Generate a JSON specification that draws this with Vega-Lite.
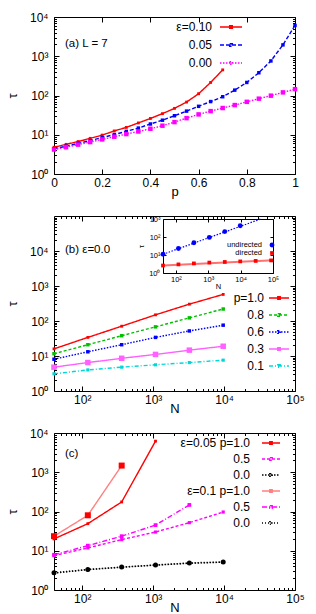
{
"$schema": "https://vega.github.io/schema/vega-lite/v6.json",
"padding": {"left": 5, "top": 10, "right": 0, "bottom": 0},
"bounds": "flush",
"spacing": 42,
"config": {
  "font": "Liberation Sans",
  "view": {"stroke": "#000000", "strokeWidth": 1},
  "axis": {"domain": false, "grid": false, "ticks": true, "tickColor": "#000000", "tickWidth": 1, "tickSize": -5, "labelColor": "#000000", "labelFontSize": 12, "labelFont": "Liberation Sans", "titleFont": "Liberation Sans", "titleFontSize": 13, "titleFontWeight": "normal", "titleColor": "#000000", "labelPadding": 8, "labelFlush": false, "labelOverlap": false},
  "axisY": {"labelPadding": 11, "titlePadding": 10},
  "axisX": {"titlePadding": -3},
  "legend": {"orient": "none", "title": null, "labelFont": "Liberation Sans", "labelFontSize": 12, "labelColor": "#000000", "labelAlign": "right", "padding": 0, "labelLimit": 0},
  "title": {"font": "Liberation Sans", "fontSize": 11.5, "fontWeight": "normal", "color": "#000000", "anchor": "start", "frame": "group", "baseline": "middle"}
},
"resolve": {"scale": {"color": "independent", "fill": "independent", "size": "independent", "shape": "independent", "strokeDash": "independent", "x": "independent", "y": "independent"}},
"datasets": {
  "a": [
    {"p":0,"tau":4.8,"s":"ε=0.10"},{"p":0.05,"tau":5.7,"s":"ε=0.10"},{"p":0.1,"tau":6.7,"s":"ε=0.10"},{"p":0.15,"tau":8.1,"s":"ε=0.10"},{"p":0.2,"tau":9.8,"s":"ε=0.10"},{"p":0.25,"tau":12.5,"s":"ε=0.10"},{"p":0.3,"tau":15.4,"s":"ε=0.10"},{"p":0.35,"tau":20,"s":"ε=0.10"},{"p":0.4,"tau":26,"s":"ε=0.10"},{"p":0.45,"tau":34.5,"s":"ε=0.10"},{"p":0.5,"tau":47,"s":"ε=0.10"},{"p":0.55,"tau":68,"s":"ε=0.10"},{"p":0.6,"tau":111,"s":"ε=0.10"},{"p":0.65,"tau":215,"s":"ε=0.10"},{"p":0.7,"tau":450,"s":"ε=0.10"},
    {"p":0,"tau":4.4,"s":"0.05"},{"p":0.05,"tau":5.1,"s":"0.05"},{"p":0.1,"tau":6.0,"s":"0.05"},{"p":0.15,"tau":7.1,"s":"0.05"},{"p":0.2,"tau":8.5,"s":"0.05"},{"p":0.25,"tau":10.1,"s":"0.05"},{"p":0.3,"tau":12.2,"s":"0.05"},{"p":0.35,"tau":14.8,"s":"0.05"},{"p":0.4,"tau":18.8,"s":"0.05"},{"p":0.45,"tau":23.5,"s":"0.05"},{"p":0.5,"tau":30.5,"s":"0.05"},{"p":0.55,"tau":40,"s":"0.05"},{"p":0.6,"tau":53,"s":"0.05"},{"p":0.65,"tau":70,"s":"0.05"},{"p":0.7,"tau":93,"s":"0.05"},{"p":0.75,"tau":137,"s":"0.05"},{"p":0.8,"tau":215,"s":"0.05"},{"p":0.85,"tau":380,"s":"0.05"},{"p":0.9,"tau":760,"s":"0.05"},{"p":0.95,"tau":1950,"s":"0.05"},{"p":1.0,"tau":6100,"s":"0.05"},
    {"p":0,"tau":4.2,"s":"0.00"},{"p":0.05,"tau":4.8,"s":"0.00"},{"p":0.1,"tau":5.6,"s":"0.00"},{"p":0.15,"tau":6.5,"s":"0.00"},{"p":0.2,"tau":7.6,"s":"0.00"},{"p":0.25,"tau":8.9,"s":"0.00"},{"p":0.3,"tau":10.4,"s":"0.00"},{"p":0.35,"tau":12.1,"s":"0.00"},{"p":0.4,"tau":14.2,"s":"0.00"},{"p":0.45,"tau":17,"s":"0.00"},{"p":0.5,"tau":21,"s":"0.00"},{"p":0.55,"tau":26.5,"s":"0.00"},{"p":0.6,"tau":33,"s":"0.00"},{"p":0.65,"tau":40,"s":"0.00"},{"p":0.7,"tau":48,"s":"0.00"},{"p":0.75,"tau":57,"s":"0.00"},{"p":0.8,"tau":69,"s":"0.00"},{"p":0.85,"tau":83,"s":"0.00"},{"p":0.9,"tau":99,"s":"0.00"},{"p":0.95,"tau":120,"s":"0.00"},{"p":1.0,"tau":145,"s":"0.00"}
  ],
  "b": [
    {"N":40,"tau":16,"s":"p=1.0"},{"N":120,"tau":34,"s":"p=1.0"},{"N":360,"tau":71,"s":"p=1.0"},{"N":1080,"tau":150,"s":"p=1.0"},{"N":3240,"tau":303,"s":"p=1.0"},{"N":9720,"tau":575,"s":"p=1.0"},
    {"N":40,"tau":11.6,"s":"0.8"},{"N":120,"tau":21,"s":"0.8"},{"N":360,"tau":38,"s":"0.8"},{"N":1080,"tau":68,"s":"0.8"},{"N":3240,"tau":123,"s":"0.8"},{"N":9720,"tau":220,"s":"0.8"},
    {"N":40,"tau":8.1,"s":"0.6"},{"N":120,"tau":13.2,"s":"0.6"},{"N":360,"tau":21,"s":"0.6"},{"N":1080,"tau":34,"s":"0.6"},{"N":3240,"tau":52,"s":"0.6"},{"N":9720,"tau":76,"s":"0.6"},
    {"N":40,"tau":4.8,"s":"0.3"},{"N":120,"tau":6.5,"s":"0.3"},{"N":360,"tau":8.6,"s":"0.3"},{"N":1080,"tau":11.1,"s":"0.3"},{"N":3240,"tau":14.7,"s":"0.3"},{"N":9720,"tau":19,"s":"0.3"},
    {"N":40,"tau":3.1,"s":"0.1"},{"N":120,"tau":4.0,"s":"0.1"},{"N":360,"tau":4.8,"s":"0.1"},{"N":1080,"tau":5.6,"s":"0.1"},{"N":3240,"tau":6.5,"s":"0.1"},{"N":9720,"tau":7.6,"s":"0.1"}
  ],
  "bi": [
    {"N":40,"tau":11,"kind":"undirected"},{"N":120,"tau":23,"kind":"undirected"},{"N":360,"tau":48,"kind":"undirected"},{"N":1080,"tau":95,"kind":"undirected"},{"N":3240,"tau":200,"kind":"undirected"},{"N":9720,"tau":420,"kind":"undirected"},
    {"N":40,"tau":2.6,"kind":"directed"},{"N":120,"tau":3.0,"kind":"directed"},{"N":360,"tau":3.4,"kind":"directed"},{"N":1080,"tau":3.8,"kind":"directed"},{"N":3240,"tau":4.1,"kind":"directed"},{"N":9720,"tau":4.4,"kind":"directed"},{"N":29160,"tau":4.7,"kind":"directed"},{"N":87480,"tau":5.0,"kind":"directed"}
  ],
  "bfit": [
    {"N":40,"tau":11,"kind":"undirected"},{"N":41700,"tau":1000,"kind":"undirected"},
    {"N":40,"tau":2.6,"kind":"directed"},{"N":100000,"tau":5.1,"kind":"directed"}
  ],
  "c": [
    {"N":40,"tau":20,"s":"e05p10"},{"N":120,"tau":49,"s":"e05p10"},{"N":360,"tau":175,"s":"e05p10"},{"N":1080,"tau":6200,"s":"e05p10"},
    {"N":40,"tau":7.5,"s":"e05p05"},{"N":120,"tau":11.8,"s":"e05p05"},{"N":360,"tau":19.2,"s":"e05p05"},{"N":1080,"tau":30,"s":"e05p05"},{"N":3240,"tau":52,"s":"e05p05"},{"N":9720,"tau":97,"s":"e05p05"},
    {"N":40,"tau":2.7,"s":"e05p00"},{"N":120,"tau":3.3,"s":"e05p00"},{"N":360,"tau":3.8,"s":"e05p00"},{"N":1080,"tau":4.3,"s":"e05p00"},{"N":3240,"tau":4.8,"s":"e05p00"},{"N":9720,"tau":5.1,"s":"e05p00"},
    {"N":40,"tau":23.5,"s":"e10p10"},{"N":120,"tau":80,"s":"e10p10"},{"N":360,"tau":1480,"s":"e10p10"},
    {"N":40,"tau":7.9,"s":"e10p05"},{"N":120,"tau":13.5,"s":"e10p05"},{"N":360,"tau":23.5,"s":"e10p05"},{"N":1080,"tau":45,"s":"e10p05"},{"N":3240,"tau":147,"s":"e10p05"},
    {"N":40,"tau":2.75,"s":"e10p00"},{"N":120,"tau":3.35,"s":"e10p00"},{"N":360,"tau":3.85,"s":"e10p00"},{"N":1080,"tau":4.35,"s":"e10p00"},{"N":3240,"tau":4.9,"s":"e10p00"},{"N":9720,"tau":5.2,"s":"e10p00"}
  ]
},
"vconcat": [
{
  "width": 241, "height": 157,
  "title": {"text": "(a) L = 7", "offset": -38, "dx": 11},
  "data": {"name": "a"},
  "resolve": {"axis": {"x": "independent", "y": "independent"}, "scale": {"fill": "independent", "size": "independent", "shape": "independent"}},
  "layer": [
    {"mark": {"type": "line", "strokeWidth": 1.4},
     "encoding": {
       "x": {"field": "p", "type": "quantitative", "scale": {"domain": [0, 1], "nice": false, "zero": false}, "axis": {"orient": "bottom", "title": "p", "values": [0, 0.2, 0.4, 0.6, 0.8, 1], "format": "~g"}},
       "y": {"field": "tau", "type": "quantitative", "scale": {"type": "log", "domain": [1, 10000], "nice": false}, "axis": {"orient": "left", "title": "τ", "values": [1, 10, 100, 1000, 10000], "labelExpr": "datum.value==1?'10⁰':datum.value==10?'10¹':datum.value==100?'10²':datum.value==1000?'10³':datum.value==10000?'10⁴':'10⁵'"}},
       "color": {"field": "s", "type": "nominal", "scale": {"domain": ["ε=0.10", "0.05", "0.00"], "range": ["#ff0000", "#0000ff", "#ff00ff"]}, "legend": {"legendX": 165, "legendY": -2, "symbolType": "M-1,0H1M-0.12,-0.12H0.12V0.12H-0.12Z", "symbolSize": 484, "symbolStrokeWidth": 1.5, "rowPadding": -11, "labelOffset": -31}},
       "strokeDash": {"field": "s", "type": "nominal", "scale": {"domain": ["ε=0.10", "0.05", "0.00"], "range": [[1, 0], [4, 2], [1.5, 1.5]]}, "legend": {"legendX": 165, "legendY": -2, "symbolType": "M-1,0H1M-0.12,-0.12H0.12V0.12H-0.12Z", "symbolSize": 484, "symbolStrokeWidth": 1.5, "rowPadding": -11, "labelOffset": -31}}
     }},
    {"mark": {"type": "point", "filled": true, "shape": "square", "opacity": 1},
     "encoding": {
       "x": {"field": "p", "type": "quantitative", "axis": {"orient": "top", "labels": false, "title": null, "values": [0, 0.2, 0.4, 0.6, 0.8, 1]}},
       "y": {"field": "tau", "type": "quantitative", "axis": {"orient": "right", "labels": false, "title": null, "values": [1, 10, 100, 1000, 10000]}},
       "fill": {"field": "s", "type": "nominal", "scale": {"domain": ["ε=0.10", "0.05", "0.00"], "range": ["#ff0000", "#0000ff", "#ff00ff"]}, "legend": null},
       "size": {"field": "s", "type": "nominal", "scale": {"type": "ordinal", "domain": ["ε=0.10", "0.05", "0.00"], "range": [8, 12, 20]}, "legend": null}
     }},
    {"mark": {"type": "point", "opacity": 0},
     "encoding": {
       "x": {"field": "p", "type": "quantitative", "axis": null},
       "y": {"field": "tau", "type": "quantitative", "axis": {"orient": "left", "labels": false, "title": null, "tickSize": -2.5, "values": [2,3,4,5,6,7,8,9,20,30,40,50,60,70,80,90,200,300,400,500,600,700,800,900,2000,3000,4000,5000,6000,7000,8000,9000]}}
     }},
    {"mark": {"type": "point", "opacity": 0},
     "encoding": {
       "x": {"field": "p", "type": "quantitative", "axis": null},
       "y": {"field": "tau", "type": "quantitative", "axis": {"orient": "right", "labels": false, "title": null, "tickSize": -2.5, "values": [2,3,4,5,6,7,8,9,20,30,40,50,60,70,80,90,200,300,400,500,600,700,800,900,2000,3000,4000,5000,6000,7000,8000,9000]}}
     }}
  ]
},
{
  "width": 241, "height": 175,
  "title": {"text": "(b) ε=0.0", "offset": -40, "dx": 11},
  "resolve": {"scale": {"x": "independent", "y": "independent", "color": "independent", "fill": "independent", "size": "independent", "shape": "independent", "strokeDash": "independent"}},
  "layer": [
    {"data": {"name": "b"},
     "mark": {"type": "line", "strokeWidth": 1.4},
     "encoding": {
       "x": {"field": "N", "type": "quantitative", "scale": {"type": "log", "domain": [40, 100000], "nice": false}, "axis": {"orient": "bottom", "title": "N", "values": [100, 1000, 10000, 100000], "labelExpr": "datum.value==1?'10⁰':datum.value==10?'10¹':datum.value==100?'10²':datum.value==1000?'10³':datum.value==10000?'10⁴':'10⁵'"}},
       "y": {"field": "tau", "type": "quantitative", "scale": {"type": "log", "domain": [1, 100000], "nice": false}, "axis": {"orient": "left", "title": "τ", "values": [1, 10, 100, 1000, 10000], "labelExpr": "datum.value==1?'10⁰':datum.value==10?'10¹':datum.value==100?'10²':datum.value==1000?'10³':datum.value==10000?'10⁴':'10⁵'"}},
       "color": {"field": "s", "type": "nominal", "scale": {"domain": ["p=1.0", "0.8", "0.6", "0.3", "0.1"], "range": ["#ff0000", "#00c000", "#0000ff", "#ff60ff", "#00d8d8"]}, "legend": {"legendX": 214, "legendY": 71, "symbolType": "M-1,0H1M-0.12,-0.12H0.12V0.12H-0.12Z", "symbolSize": 400, "symbolStrokeWidth": 1.5, "rowPadding": -8.5, "labelOffset": -26}},
       "strokeDash": {"field": "s", "type": "nominal", "scale": {"domain": ["p=1.0", "0.8", "0.6", "0.3", "0.1"], "range": [[1, 0], [3, 2], [1.5, 1.5], [1, 0], [4, 2, 1, 2]]}, "legend": {"legendX": 214, "legendY": 71, "symbolType": "M-1,0H1M-0.12,-0.12H0.12V0.12H-0.12Z", "symbolSize": 400, "symbolStrokeWidth": 1.5, "rowPadding": -8.5, "labelOffset": -26}}
     }},
    {"data": {"name": "b"},
     "mark": {"type": "point", "filled": true, "shape": "square", "opacity": 1},
     "encoding": {
       "x": {"field": "N", "type": "quantitative", "scale": {"type": "log", "domain": [40, 100000], "nice": false}, "axis": {"orient": "top", "labels": false, "title": null, "values": [100, 1000, 10000, 100000]}},
       "y": {"field": "tau", "type": "quantitative", "scale": {"type": "log", "domain": [1, 100000], "nice": false}, "axis": {"orient": "right", "labels": false, "title": null, "values": [1, 10, 100, 1000, 10000]}},
       "fill": {"field": "s", "type": "nominal", "scale": {"domain": ["p=1.0", "0.8", "0.6", "0.3", "0.1"], "range": ["#ff0000", "#00c000", "#0000ff", "#ff60ff", "#00d8d8"]}, "legend": null},
       "size": {"field": "s", "type": "nominal", "scale": {"type": "ordinal", "domain": ["p=1.0", "0.8", "0.6", "0.3", "0.1"], "range": [8, 12, 12, 30, 10]}, "legend": null}
     }},
    {"data": {"name": "b"},
     "mark": {"type": "point", "opacity": 0},
     "encoding": {
       "x": {"field": "N", "type": "quantitative", "scale": {"type": "log", "domain": [40, 100000], "nice": false}, "axis": {"orient": "bottom", "labels": false, "title": null, "tickSize": -2.5, "values": [50,60,70,80,90,200,300,400,500,600,700,800,900,2000,3000,4000,5000,6000,7000,8000,9000,20000,30000,40000,50000,60000,70000,80000,90000]}},
       "y": {"field": "tau", "type": "quantitative", "scale": {"type": "log", "domain": [1, 100000], "nice": false}, "axis": {"orient": "left", "labels": false, "title": null, "tickSize": -2.5, "values": [2,3,4,5,6,7,8,9,20,30,40,50,60,70,80,90,200,300,400,500,600,700,800,900,2000,3000,4000,5000,6000,7000,8000,9000,20000,30000,40000,50000,60000,70000,80000,90000]}}
     }},
    {"data": {"name": "b"},
     "mark": {"type": "point", "opacity": 0},
     "encoding": {
       "x": {"field": "N", "type": "quantitative", "scale": {"type": "log", "domain": [40, 100000], "nice": false}, "axis": {"orient": "top", "labels": false, "title": null, "tickSize": -2.5, "values": [50,60,70,80,90,200,300,400,500,600,700,800,900,2000,3000,4000,5000,6000,7000,8000,9000,20000,30000,40000,50000,60000,70000,80000,90000]}},
       "y": {"field": "tau", "type": "quantitative", "scale": {"type": "log", "domain": [1, 100000], "nice": false}, "axis": {"orient": "right", "labels": false, "title": null, "tickSize": -2.5, "values": [2,3,4,5,6,7,8,9,20,30,40,50,60,70,80,90,200,300,400,500,600,700,800,900,2000,3000,4000,5000,6000,7000,8000,9000,20000,30000,40000,50000,60000,70000,80000,90000]}}
     }},
    {"data": {"name": "bfit"},
     "transform": [{"filter": "datum.kind == 'undirected'"}],
     "mark": {"type": "line", "color": "#0000ff", "strokeDash": [1.5, 1.5], "strokeWidth": 1.2},
     "encoding": {
       "x": {"field": "N", "type": "quantitative", "scale": {"type": "log", "domain": [40, 100000], "nice": false, "range": [109, 219]}, "axis": {"orient": "bottom", "offset": -118, "domain": true, "domainColor": "#000000", "values": [100, 1000, 10000, 100000], "labelExpr": "datum.value==1?'10⁰':datum.value==10?'10¹':datum.value==100?'10²':datum.value==1000?'10³':datum.value==10000?'10⁴':'10⁵'", "labelFontSize": 7.5, "tickSize": -3, "labelPadding": 5, "title": "N", "titleFontSize": 7.5, "titlePadding": 0}},
       "y": {"field": "tau", "type": "quantitative", "scale": {"type": "log", "domain": [1, 1000], "nice": false, "range": [57, 3]}, "axis": {"orient": "left", "offset": -109, "domain": true, "domainColor": "#000000", "values": [1, 10, 100, 1000], "labelExpr": "datum.value==1?'10⁰':datum.value==10?'10¹':datum.value==100?'10²':datum.value==1000?'10³':datum.value==10000?'10⁴':'10⁵'", "labelFontSize": 7.5, "tickSize": -3, "labelPadding": 6, "title": "τ", "titleFontSize": 7.5, "titlePadding": 3}}
     }},
    {"data": {"name": "bfit"},
     "transform": [{"filter": "datum.kind == 'directed'"}],
     "mark": {"type": "line", "color": "#ff7070", "strokeWidth": 2},
     "encoding": {
       "x": {"field": "N", "type": "quantitative", "scale": {"type": "log", "domain": [40, 100000], "nice": false, "range": [109, 219]}, "axis": {"orient": "top", "offset": -3, "domain": true, "domainColor": "#000000", "labels": false, "title": null, "tickSize": -3, "values": [100, 1000, 10000, 100000]}},
       "y": {"field": "tau", "type": "quantitative", "scale": {"type": "log", "domain": [1, 1000], "nice": false, "range": [57, 3]}, "axis": {"orient": "right", "offset": -22, "domain": true, "domainColor": "#000000", "labels": false, "title": null, "tickSize": -3, "values": [1, 10, 100, 1000]}}
     }},
    {"data": {"name": "bi"},
     "mark": {"type": "point", "filled": true, "opacity": 1},
     "encoding": {
       "x": {"field": "N", "type": "quantitative", "scale": {"type": "log", "domain": [40, 100000], "nice": false, "range": [109, 219]}, "axis": null},
       "y": {"field": "tau", "type": "quantitative", "scale": {"type": "log", "domain": [1, 1000], "nice": false, "range": [57, 3]}, "axis": null},
       "color": {"field": "kind", "type": "nominal", "scale": {"domain": ["undirected", "directed"], "range": ["#0000ff", "#ff0000"]}, "legend": {"legendX": 214.25, "legendY": 25.25, "labelFontSize": 7.5, "rowPadding": -1, "labelOffset": -13.75, "symbolSize": 20}},
       "shape": {"field": "kind", "type": "nominal", "scale": {"domain": ["undirected", "directed"], "range": ["circle", "square"]}, "legend": {"legendX": 214.25, "legendY": 25.25, "labelFontSize": 7.5, "rowPadding": -1, "labelOffset": -13.75, "symbolSize": 20}},
       "size": {"field": "kind", "type": "nominal", "scale": {"type": "ordinal", "domain": ["undirected", "directed"], "range": [24, 14]}, "legend": null}
     }}
  ]
},
{
  "width": 241, "height": 157,
  "title": {"text": "(c)", "offset": -32, "dx": 11},
  "data": {"name": "c"},
  "resolve": {"axis": {"x": "independent", "y": "independent"}, "scale": {"fill": "independent", "size": "independent", "shape": "independent"}},
  "layer": [
    {"mark": {"type": "line", "strokeWidth": 1.4},
     "encoding": {
       "x": {"field": "N", "type": "quantitative", "scale": {"type": "log", "domain": [40, 100000], "nice": false}, "axis": {"orient": "bottom", "title": "N", "values": [100, 1000, 10000, 100000], "labelExpr": "datum.value==1?'10⁰':datum.value==10?'10¹':datum.value==100?'10²':datum.value==1000?'10³':datum.value==10000?'10⁴':'10⁵'"}},
       "y": {"field": "tau", "type": "quantitative", "scale": {"type": "log", "domain": [1, 10000], "nice": false}, "axis": {"orient": "left", "title": "τ", "values": [1, 10, 100, 1000, 10000], "labelExpr": "datum.value==1?'10⁰':datum.value==10?'10¹':datum.value==100?'10²':datum.value==1000?'10³':datum.value==10000?'10⁴':'10⁵'"}},
       "color": {"field": "s", "type": "nominal", "scale": {"domain": ["e05p10", "e05p05", "e05p00", "e10p10", "e10p05", "e10p00"], "range": ["#ff0000", "#ff00ff", "#000000", "#ff8080", "#ff00ff", "#000000"]}, "legend": {"legendX": 207, "legendY": 0, "symbolType": "M-1,0H1M-0.13,-0.13H0.13V0.13H-0.13Z", "symbolSize": 324, "symbolStrokeWidth": 1.5, "rowPadding": -7, "labelOffset": -31, "labelExpr": "datum.value=='e05p10'?'ε=0.05 p=1.0':datum.value=='e05p05'?'0.5':datum.value=='e05p00'?'0.0':datum.value=='e10p10'?'ε=0.1 p=1.0':datum.value=='e10p05'?'0.5':'0.0'"}},
       "strokeDash": {"field": "s", "type": "nominal", "scale": {"domain": ["e05p10", "e05p05", "e05p00", "e10p10", "e10p05", "e10p00"], "range": [[1, 0], [3, 2], [1.5, 1.5], [1, 0], [5, 2, 1, 2], [1, 2]]}, "legend": {"legendX": 207, "legendY": 0, "symbolType": "M-1,0H1M-0.13,-0.13H0.13V0.13H-0.13Z", "symbolSize": 324, "symbolStrokeWidth": 1.5, "rowPadding": -7, "labelOffset": -31, "labelExpr": "datum.value=='e05p10'?'ε=0.05 p=1.0':datum.value=='e05p05'?'0.5':datum.value=='e05p00'?'0.0':datum.value=='e10p10'?'ε=0.1 p=1.0':datum.value=='e10p05'?'0.5':'0.0'"}}
     }},
    {"mark": {"type": "point", "filled": true, "opacity": 1},
     "encoding": {
       "x": {"field": "N", "type": "quantitative", "axis": {"orient": "top", "labels": false, "title": null, "values": [100, 1000, 10000, 100000]}},
       "y": {"field": "tau", "type": "quantitative", "axis": {"orient": "right", "labels": false, "title": null, "values": [1, 10, 100, 1000, 10000]}},
       "fill": {"field": "s", "type": "nominal", "scale": {"domain": ["e05p10", "e05p05", "e05p00", "e10p10", "e10p05", "e10p00"], "range": ["#ff0000", "#ff00ff", "#000000", "#ff0000", "#ff00ff", "#000000"]}, "legend": null},
       "shape": {"field": "s", "type": "nominal", "scale": {"domain": ["e05p10", "e05p05", "e05p00", "e10p10", "e10p05", "e10p00"], "range": ["square", "square", "circle", "square", "square", "circle"]}, "legend": null},
       "size": {"field": "s", "type": "nominal", "scale": {"type": "ordinal", "domain": ["e05p10", "e05p05", "e05p00", "e10p10", "e10p05", "e10p00"], "range": [8, 10, 12, 36, 14, 25]}, "legend": null}
     }},
    {"mark": {"type": "point", "opacity": 0},
     "encoding": {
       "x": {"field": "N", "type": "quantitative", "axis": {"orient": "bottom", "labels": false, "title": null, "tickSize": -2.5, "values": [50,60,70,80,90,200,300,400,500,600,700,800,900,2000,3000,4000,5000,6000,7000,8000,9000,20000,30000,40000,50000,60000,70000,80000,90000]}},
       "y": {"field": "tau", "type": "quantitative", "axis": {"orient": "left", "labels": false, "title": null, "tickSize": -2.5, "values": [2,3,4,5,6,7,8,9,20,30,40,50,60,70,80,90,200,300,400,500,600,700,800,900,2000,3000,4000,5000,6000,7000,8000,9000]}}
     }},
    {"mark": {"type": "point", "opacity": 0},
     "encoding": {
       "x": {"field": "N", "type": "quantitative", "axis": {"orient": "top", "labels": false, "title": null, "tickSize": -2.5, "values": [50,60,70,80,90,200,300,400,500,600,700,800,900,2000,3000,4000,5000,6000,7000,8000,9000,20000,30000,40000,50000,60000,70000,80000,90000]}},
       "y": {"field": "tau", "type": "quantitative", "axis": {"orient": "right", "labels": false, "title": null, "tickSize": -2.5, "values": [2,3,4,5,6,7,8,9,20,30,40,50,60,70,80,90,200,300,400,500,600,700,800,900,2000,3000,4000,5000,6000,7000,8000,9000]}}
     }}
  ]
}
]
}
